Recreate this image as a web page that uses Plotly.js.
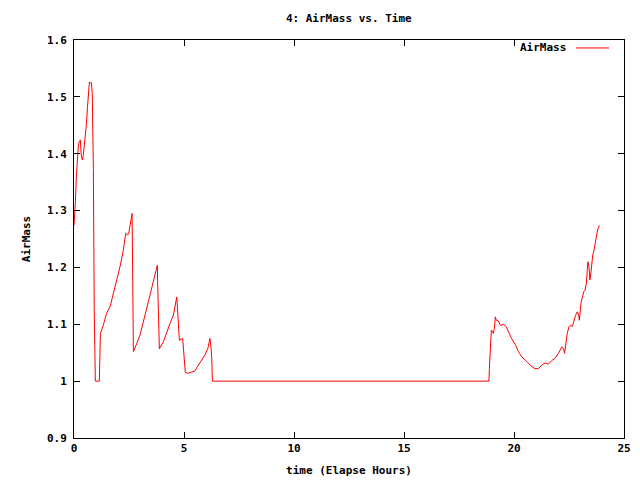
<!DOCTYPE html>
<html>
<head>
<meta charset="utf-8">
<script src="https://cdn.plot.ly/plotly-3.0.1.min.js"></script>
<style>html,body{margin:0;padding:0;background:#fff;}#chart{width:640px;height:480px;}</style>
</head>
<body>
<div id="chart"></div>
<script>
var timeHours = [
  0.00, 0.02, 0.06, 0.11, 0.15, 0.20, 0.24, 0.29, 0.33, 0.38, 0.42, 0.47, 0.51, 0.56, 0.61, 0.65, 0.70, 0.74, 0.79, 0.83, 0.88, 0.92, 0.97,
  1.15, 1.20, 1.33, 1.48, 1.64, 1.79, 1.94, 2.09, 2.24, 2.35, 2.44, 2.49, 2.55, 2.59, 2.64, 2.67, 2.70,
  2.85, 3.00, 3.15, 3.30, 3.45, 3.61, 3.71, 3.76, 3.79, 3.80, 3.85, 3.88,
  4.06, 4.21, 4.36, 4.52, 4.59, 4.67, 4.70, 4.74, 4.79, 4.94, 4.97, 5.03, 5.06,
  5.20, 5.35, 5.50, 5.65, 5.80, 5.95, 6.08, 6.14, 6.18, 6.23, 6.26, 6.29,
  18.86, 18.88, 18.92, 18.97, 19.02, 19.06, 19.11, 19.15, 19.20, 19.29, 19.38, 19.52, 19.64, 19.74, 19.89,
  20.05, 20.20, 20.35, 20.50, 20.65, 20.80, 20.95, 21.11, 21.26, 21.41, 21.56, 21.71, 21.86,
  22.02, 22.17, 22.24, 22.30, 22.35, 22.42, 22.50, 22.58, 22.65, 22.73, 22.80, 22.88, 22.94, 22.97,
  23.00, 23.05, 23.11, 23.17, 23.23, 23.29, 23.33, 23.36, 23.41, 23.45, 23.50, 23.53, 23.58, 23.62,
  23.67, 23.71, 23.76, 23.80, 23.85, 23.88
];
var airMass = [
  1.274, 1.283, 1.312, 1.362, 1.397, 1.415, 1.421, 1.424, 1.397, 1.389, 1.397, 1.415, 1.430, 1.450, 1.480, 1.509, 1.526, 1.525, 1.525, 1.506, 1.374, 1.125, 1.000,
  1.000, 1.084, 1.098, 1.119, 1.131, 1.154, 1.178, 1.201, 1.230, 1.260, 1.257, 1.260, 1.274, 1.289, 1.295, 1.175, 1.052,
  1.066, 1.081, 1.104, 1.128, 1.154, 1.178, 1.195, 1.200, 1.204, 1.175, 1.096, 1.057,
  1.069, 1.087, 1.101, 1.116, 1.131, 1.148, 1.131, 1.090, 1.072, 1.075, 1.060, 1.031, 1.015,
  1.014, 1.016, 1.018, 1.028, 1.037, 1.046, 1.057, 1.069, 1.075, 1.058, 1.040, 1.000,
  1.000, 1.022, 1.069, 1.090, 1.087, 1.084, 1.093, 1.113, 1.107, 1.106, 1.098, 1.100, 1.096, 1.087, 1.075,
  1.065, 1.052, 1.043, 1.037, 1.031, 1.026, 1.022, 1.022, 1.028, 1.032, 1.030, 1.036, 1.040,
  1.049, 1.060, 1.058, 1.049, 1.066, 1.084, 1.096, 1.098, 1.096, 1.107, 1.116, 1.122, 1.116, 1.107,
  1.119, 1.139, 1.148, 1.157, 1.160, 1.172, 1.195, 1.210, 1.201, 1.178, 1.192, 1.210, 1.222, 1.227,
  1.236, 1.248, 1.257, 1.266, 1.273, 1.274
];
var seriesName = "AirMass";
var chartTitle = "4: AirMass vs. Time";
var xTitle = "time (Elapse Hours)";
var yTitle = "AirMass";

var font = {family: "DejaVu Sans Mono, monospace", size: 11, color: "#000", weight: "bold"};

var trace = {
  x: timeHours, y: airMass, type: "scatter", mode: "lines", name: seriesName,
  line: {color: "#ff0000", width: 1}, showlegend: false
};

var axisCommon = {
  showgrid: false, zeroline: false, showline: true, linecolor: "#000", linewidth: 1,
  mirror: "ticks", ticks: "inside", ticklen: 6, tickcolor: "#000", tickwidth: 1,
  tickfont: font
};

var layout = {
  width: 640, height: 480,
  margin: {l: 74, r: 16, t: 40, b: 42, pad: 0},
  paper_bgcolor: "#fff", plot_bgcolor: "#fff",
  font: font,
  title: {text: chartTitle, font: font, x: 0.545, xanchor: "center", y: 0.962, yanchor: "middle"},
  xaxis: Object.assign({}, axisCommon, {range: [0, 25], dtick: 5, tick0: 0,
    title: {text: xTitle, font: font, standoff: 12}}),
  yaxis: Object.assign({}, axisCommon, {range: [0.9, 1.6], dtick: 0.1, tick0: 0.9,
    ticklabelstandoff: 4,
    title: {text: yTitle, font: font, standoff: 14}}),
  annotations: [{
    xref: "paper", yref: "paper", x: 0.899, y: 0.98, xanchor: "right", yanchor: "middle",
    text: seriesName, showarrow: false, font: font
  }],
  shapes: [{
    type: "line", xref: "paper", yref: "paper", x0: 0.913, x1: 0.973, y0: 0.98, y1: 0.98,
    line: {color: "#ff0000", width: 1}
  }]
};

Plotly.newPlot("chart", [trace], layout, {displayModeBar: false, staticPlot: true});
</script>
</body>
</html>
